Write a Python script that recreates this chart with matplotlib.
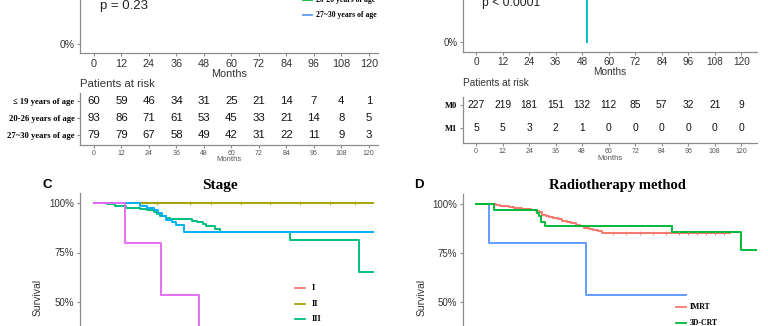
import matplotlib.pyplot as plt
from matplotlib.lines import Line2D

plt.rcParams['font.family'] = ['Liberation Sans', 'DejaVu Sans']
SERIF = ['Liberation Serif', 'DejaVu Serif']

# ---- data ----
months_ticks = [0, 12, 24, 36, 48, 60, 72, 84, 96, 108, 120]

age_groups = ['\u2264 19 years of age', '20-26 years of age', '27~30 years of age']
age_risk_le19 = [60, 59, 46, 34, 31, 25, 21, 14, 7, 4, 1]
age_risk_20_26 = [93, 86, 71, 61, 53, 45, 33, 21, 14, 8, 5]
age_risk_27_30 = [79, 79, 67, 58, 49, 42, 31, 22, 11, 9, 3]
age_colors = ['#F8766D', '#00BA38', '#619CFF']

m_groups = ['M0', 'M1']
m_risk_m0 = [227, 219, 181, 151, 132, 112, 85, 57, 32, 21, 9]
m_risk_m1 = [5, 5, 3, 2, 1, 0, 0, 0, 0, 0, 0]
m1_time = [0, 8, 20, 30, 50.3]
m1_surv = [100, 80, 60, 40, 0]

stage_labels = ['I', 'II', 'III', 'IV']
stage_colors = ['#F8766D', '#A3A500', '#00BF7D', '#00B0F6', '#E76BF3']
stage1_time = [0, 40]
stage1_surv = [100, 100]
stage2_time = [0, 122]
stage2_surv = [100, 100]
stage2_cens = [21, 27.5, 42, 51, 64, 77, 90, 103, 114]
stage3_time = [0, 5.5, 9, 14, 20, 23, 26, 27.5, 29, 31.5, 33, 43, 45, 47.5, 49, 53, 55, 85.5, 115.5, 122]
stage3_surv = [100, 99.4, 98.5, 97.7, 97, 96.5, 95.5, 94.5, 93.5, 92.5, 91.9, 91, 90.2, 89.3, 88.3, 86.8, 85.6, 81.4, 65.4, 65.4]
stage4_time = [0, 20, 23, 26, 28, 29.5, 31.5, 34, 36, 39.5, 122]
stage4_surv = [100, 98.5, 97.5, 96.5, 95, 93.2, 91.5, 90.2, 88.9, 85.6, 85.6]
stage5_time = [0, 13.7, 29.3, 45.7]
stage5_surv = [100, 80, 53.3, 0]

rt_labels = ['IMRT', '3D-CRT']
rt_colors = ['#F8766D', '#00BA38', '#619CFF']
imrt_time = [0, 9, 11, 13, 15, 17, 19, 21, 23, 25, 27, 28.5, 30, 31.5, 33, 35, 37, 39, 41, 43, 45, 47, 49, 51, 53, 55, 57, 115]
imrt_surv = [100, 99.6, 99.2, 98.9, 98.6, 98.2, 97.9, 97.6, 97.3, 97.0, 96.6, 95.8, 94.6, 93.8, 93.3, 92.7, 92.1, 91.5, 90.8, 90.1, 89.4, 88.6, 87.9, 87.2, 86.8, 86.2, 85.4, 85.4]
imrt_cens = [62, 68, 74, 80, 86, 92, 96, 100, 104, 108, 112]
crt_time = [0, 8.3, 27.5, 28.5, 29.5, 31, 88.7, 119.8, 127]
crt_surv = [100, 96.9, 95.2, 93.9, 91, 88.8, 85.9, 76.5, 76.5]
other_time = [0, 5.9, 49.6, 94.9]
other_surv = [100, 80, 53.4, 53.4]

W, H = 768, 326
fig = plt.figure(figsize=(W / 100, H / 100), dpi=100)


def box(l, t, r, b):
    return [l / W, 1 - b / H, (r - l) / W, (b - t) / H]


def fx(x):
    return x / W


def fy(y):
    return 1 - y / H


AX_GREY = '#8C8C8C'
TXT = '#333333'


def setup(ax, xlim, ylim, fs):
    ax.set_xlim(*xlim)
    ax.set_ylim(*ylim)
    for s in ['top', 'right']:
        ax.spines[s].set_visible(False)
    for s in ['left', 'bottom']:
        ax.spines[s].set_color(AX_GREY)
        ax.spines[s].set_linewidth(0.9)
    ax.tick_params(colors=AX_GREY, labelcolor=TXT, labelsize=fs, length=2.5, width=0.8, pad=1.5)
    ax.patch.set_alpha(0)


def pct_axis(ax, fs, shown):
    # only the percent ticks that fall inside the cropped picture
    ax.set_yticks(shown)
    ax.set_yticklabels(['{}%'.format(v) for v in shown])
    ax.set_xticks(months_ticks)
    ax.tick_params(axis='y', labelsize=fs)


def risk_table(ax, rows, labels, fs_num, fs_lab):
    n = len(rows)
    for i, row in enumerate(rows):
        yv = n - 1 - i
        for t, v in zip(months_ticks, row):
            ax.text(t, yv, str(v), ha='center', va='center', fontsize=fs_num, color='#111111')
    ax.set_yticks(list(range(n - 1, -1, -1)))
    ax.set_yticklabels(labels, family=SERIF, fontweight='bold', fontsize=fs_lab, color='black')
    ax.set_xticks(months_ticks)
    ax.tick_params(axis='x', labelsize=5, labelcolor='#555555', pad=1)


xlim_left = (-6.1, 124.0)
xlim_right = (-5.9, 127.1)

# ---- A: age ----
axA = fig.add_axes(box(80, -164.4, 378, 53.4))
setup(axA, xlim_left, (-5, 105), 7.8)
pct_axis(axA, 7.5, [0])
axA.set_xlabel('Months', fontsize=7.8, color=TXT, labelpad=0)
fig.text(fx(100), fy(6), 'p = 0.23', fontsize=9.5, color='#222222', ha='left', va='center')
for yy, lab, col in [(0, age_groups[1], age_colors[1]), (15, age_groups[2], age_colors[2])]:
    fig.add_artist(Line2D([fx(303), fx(312)], [fy(yy), fy(yy)], color=col, lw=1.3))
    fig.text(fx(316), fy(yy), lab, family=SERIF, fontweight='bold', fontsize=5.6, ha='left', va='center')

tabA = fig.add_axes(box(80, 93, 378, 145))
setup(tabA, xlim_left, (-0.59, 2.47), 5)
risk_table(tabA, [age_risk_le19, age_risk_20_26, age_risk_27_30], age_groups, 8.2, 6.2)
fig.text(fx(80), fy(84), 'Patients at risk', fontsize=8.2, color=TXT, ha='left', va='center')
fig.text(fx(229), fy(159), 'Months', fontsize=5.5, color='#555555', ha='center', va='center')

# ---- B: M stage ----
axB = fig.add_axes(box(463, -163.8, 757, 51.8))
setup(axB, xlim_right, (-5, 105), 7.2)
pct_axis(axB, 7, [0])
axB.step(m1_time, m1_surv, where='post', color='#00BFC4', lw=1.4)
axB.set_xlabel('Months', fontsize=7.2, color=TXT, labelpad=0)
fig.text(fx(482), fy(3), 'p < 0.0001', fontsize=8.7, color='#222222', ha='left', va='center')

tabB = fig.add_axes(box(463, 97, 757, 143))
setup(tabB, xlim_right, (-0.65, 1.35), 5)
risk_table(tabB, [m_risk_m0, m_risk_m1], m_groups, 7.4, 6)
fig.text(fx(463), fy(83), 'Patients at risk', fontsize=7.2, color=TXT, ha='left', va='center')
fig.text(fx(610), fy(158), 'Months', fontsize=5.5, color='#555555', ha='center', va='center')

# ---- C: stage ----
axC = fig.add_axes(box(80, 193.1, 378, 410.9))
setup(axC, xlim_left, (-5, 105), 7)
pct_axis(axC, 7, [50, 75, 100])
axC.tick_params(axis='x', labelbottom=False)
curves = [(stage1_time, stage1_surv), (stage2_time, stage2_surv), (stage3_time, stage3_surv),
          (stage4_time, stage4_surv), (stage5_time, stage5_surv)]
for (t, s), col in zip(curves, stage_colors):
    axC.step(t, s, where='post', color=col, lw=1.4)
axC.plot(stage2_cens, [100] * len(stage2_cens), '+', color=stage_colors[1], ms=2.5, mew=0.6)
fig.text(fx(47), fy(185), 'C', fontsize=9.5, fontweight='bold', ha='center', va='center')
fig.text(fx(220), fy(186), 'Stage', family=SERIF, fontsize=11, fontweight='bold', ha='center', va='center')
fig.text(fx(38), fy(297), 'Survival', fontsize=7.5, color=TXT, rotation=90, ha='center', va='center')
for i, lab in enumerate(stage_labels[:3]):
    yy = 288 + i * 15.5
    fig.add_artist(Line2D([fx(295), fx(305)], [fy(yy), fy(yy)], color=stage_colors[i], lw=1.3))
    fig.text(fx(312), fy(yy), lab, family=SERIF, fontweight='bold', fontsize=6, ha='left', va='center')

# ---- D: radiotherapy method ----
axD = fig.add_axes(box(463, 194.2, 757, 409.8))
setup(axD, xlim_right, (-5, 105), 7)
pct_axis(axD, 7, [50, 75, 100])
axD.tick_params(axis='x', labelbottom=False)
axD.step(other_time, other_surv, where='post', color=rt_colors[2], lw=1.4)
axD.step(imrt_time, imrt_surv, where='post', color=rt_colors[0], lw=1.4)
axD.step(crt_time, crt_surv, where='post', color=rt_colors[1], lw=1.4)
axD.plot(imrt_cens, [85.4] * len(imrt_cens), '+', color=rt_colors[0], ms=2.5, mew=0.6)
fig.text(fx(419), fy(185), 'D', fontsize=9.5, fontweight='bold', ha='center', va='center')
fig.text(fx(617), fy(186), 'Radiotherapy method', family=SERIF, fontsize=10.5, fontweight='bold', ha='center', va='center')
fig.text(fx(422), fy(297), 'Survival', fontsize=7.5, color=TXT, rotation=90, ha='center', va='center')
for i, lab in enumerate(rt_labels):
    yy = 307 + i * 16
    fig.add_artist(Line2D([fx(676), fx(686)], [fy(yy), fy(yy)], color=rt_colors[i], lw=1.3))
    fig.text(fx(690), fy(yy), lab, family=SERIF, fontweight='bold', fontsize=5.6, ha='left', va='center')

fig.savefig('out.png', dpi=100)
